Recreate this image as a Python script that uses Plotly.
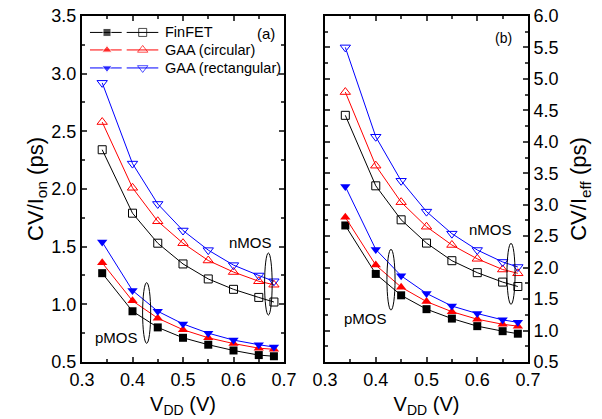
import plotly.graph_objects as go

# ---------------- data ----------------
vdd = [0.34, 0.40, 0.45, 0.50, 0.55, 0.60, 0.65, 0.68]

# (a) CV/Ion (ps)
fin_n_on = [2.34, 1.79, 1.53, 1.35, 1.22, 1.13, 1.06, 1.02]
circ_n_on = [2.58, 2.01, 1.72, 1.53, 1.38, 1.28, 1.20, 1.17]
rect_n_on = [2.92, 2.22, 1.87, 1.64, 1.47, 1.34, 1.25, 1.20]
fin_p_on = [1.27, 0.94, 0.80, 0.71, 0.65, 0.60, 0.56, 0.55]
circ_p_on = [1.36, 1.03, 0.88, 0.78, 0.71, 0.66, 0.62, 0.61]
rect_p_on = [1.54, 1.12, 0.94, 0.83, 0.75, 0.69, 0.65, 0.63]

# (b) CV/Ieff (ps)
fin_n_eff = [4.42, 3.30, 2.76, 2.39, 2.11, 1.92, 1.77, 1.70]
circ_n_eff = [4.79, 3.62, 3.04, 2.65, 2.36, 2.14, 1.97, 1.91]
rect_n_eff = [5.50, 4.08, 3.38, 2.89, 2.54, 2.28, 2.09, 2.01]
fin_p_eff = [2.67, 1.90, 1.56, 1.34, 1.19, 1.07, 0.99, 0.95]
circ_p_eff = [2.80, 2.04, 1.69, 1.46, 1.30, 1.18, 1.10, 1.07]
rect_p_eff = [3.29, 2.29, 1.87, 1.59, 1.39, 1.27, 1.17, 1.13]

device_names = ["FinFET", "GAA (circular)", "GAA (rectangular)"]
colors = ["#000000", "#ff0000", "#0000ff"]
symbols = ["square", "triangle-up", "triangle-down"]

FONT = "Liberation Sans, Arial, sans-serif"

fig = go.Figure()

panels = [
    ("x", "y", [fin_n_on, circ_n_on, rect_n_on], [fin_p_on, circ_p_on, rect_p_on]),
    ("x2", "y2", [fin_n_eff, circ_n_eff, rect_n_eff], [fin_p_eff, circ_p_eff, rect_p_eff]),
]
for xa, ya, nser, pser in panels:
    for i in range(3):
        # pMOS filled
        fig.add_trace(go.Scatter(
            x=vdd, y=pser[i], xaxis=xa, yaxis=ya, mode="lines+markers",
            line=dict(color=colors[i], width=1),
            marker=dict(symbol=symbols[i], size=9 if i else 8, color=colors[i],
                        line=dict(width=0)),
            showlegend=False, cliponaxis=False))
        # nMOS open
        fig.add_trace(go.Scatter(
            x=vdd, y=nser[i], xaxis=xa, yaxis=ya, mode="lines+markers",
            line=dict(color=colors[i], width=1),
            marker=dict(symbol=symbols[i] + "-open", size=9 if i else 8, color=colors[i],
                        line=dict(width=1)),
            showlegend=False, cliponaxis=False))

# ---------------- legend (drawn inside panel a) ----------------
leg_rows = [3.357, 3.205, 3.049]
for i in range(3):
    fig.add_trace(go.Scatter(
        x=[0.3158, 0.3495, 0.3786], y=[leg_rows[i]] * 3, xaxis="x", yaxis="y",
        mode="lines+markers", line=dict(color=colors[i], width=1),
        marker=dict(symbol=symbols[i], size=[0, 9 if i else 8, 0], color=colors[i]),
        showlegend=False, hoverinfo="skip"))
    fig.add_trace(go.Scatter(
        x=[0.3885, 0.4202, 0.4511], y=[leg_rows[i]] * 3, xaxis="x", yaxis="y",
        mode="lines+markers", line=dict(color=colors[i], width=1),
        marker=dict(symbol=symbols[i] + "-open", size=[0, 9 if i else 8, 0],
                    color=colors[i], line=dict(width=1)),
        showlegend=False, hoverinfo="skip"))
    fig.add_annotation(x=0.4598, y=leg_rows[i], xref="x", yref="y", text=device_names[i],
                       showarrow=False, xanchor="left", yanchor="middle",
                       font=dict(family=FONT, size=14.5, color="black"))

# ---------------- axes ----------------
common_x = dict(range=[0.3, 0.7], dtick=0.1, tick0=0.3, tickformat=".1f",
                ticks="inside", ticklen=5, tickwidth=1.5, mirror="allticks",
                showline=True, linecolor="black", linewidth=2, showgrid=False,
                zeroline=False, automargin=False,
                tickfont=dict(family=FONT, size=18, color="black"),
                minor=dict(ticks="inside", ticklen=3, dtick=0.05, tickwidth=1.5,
                           showgrid=False),
                title=dict(text="V<sub>DD</sub> (V)", font=dict(family=FONT, size=20,
                                                               color="black"), standoff=8))
common_y = dict(dtick=0.5, tickformat=".1f", ticks="inside", ticklen=5, tickwidth=1.5,
                mirror="allticks", showline=True, linecolor="black", linewidth=2,
                showgrid=False, zeroline=False, automargin=False,
                tickfont=dict(family=FONT, size=18, color="black"),
                minor=dict(ticks="inside", ticklen=3, dtick=0.25, tickwidth=1.5,
                           showgrid=False))

yd = [0.136, 0.962]
fig.update_layout(
    xaxis=dict(common_x, domain=[0.1362, 0.4718], anchor="y"),
    yaxis=dict(common_y, domain=yd, range=[0.5, 3.5], anchor="x",
               title=dict(text="CV/I<sub>on</sub> (ps)",
                          font=dict(family=FONT, size=22, color="black"), standoff=2)),
    xaxis2=dict(common_x, domain=[0.5399, 0.8771], anchor="y2"),
    yaxis2=dict(common_y, domain=yd, range=[0.5, 6.0], anchor="x2", side="right",
                title=dict(text="CV/I<sub>eff</sub> (ps)",
                           font=dict(family=FONT, size=22, color="black"), standoff=13)),
    width=602, height=419,
    margin=dict(l=0, r=0, t=0, b=0),
    paper_bgcolor="white", plot_bgcolor="white",
    showlegend=False,
)

# ---------------- annotations: panel labels, nMOS/pMOS ----------------
ann = [
    ("x", "y", 0.686, 3.35, "(a)", 15, "right"),
    ("x2", "y2", 0.672, 5.65, "(b)", 14, "right"),
    ("x", "y", 0.633, 1.54, "nMOS", 15, "center"),
    ("x", "y", 0.369, 0.71, "pMOS", 15, "center"),
    ("x2", "y2", 0.627, 2.60, "nMOS", 15, "center"),
    ("x2", "y2", 0.379, 1.19, "pMOS", 15, "center"),
]
for xr, yr, xv, yv, t, s, xa in ann:
    fig.add_annotation(x=xv, y=yv, xref=xr, yref=yr, text=t, showarrow=False,
                       xanchor=xa, yanchor="middle",
                       font=dict(family=FONT, size=s, color="black"))

# ---------------- ellipses ----------------
ellipses = [
    ("x", "y", 0.669, 0.907, 1.445, 0.0075),
    ("x", "y", 0.428, 0.662, 1.188, 0.008),
    ("x2", "y2", 0.6665, 1.417, 2.386, 0.008),
    ("x2", "y2", 0.430, 1.326, 2.291, 0.008),
]
for xr, yr, xc, y0, y1, hw in ellipses:
    fig.add_shape(type="circle", xref=xr, yref=yr, x0=xc - hw, x1=xc + hw, y0=y0, y1=y1,
                  line=dict(color="black", width=1))

fig.write_html("out.html", config={"displayModeBar": False},
               post_script="document.body.style.margin='0';"
                           "document.documentElement.style.overflow='hidden';")
